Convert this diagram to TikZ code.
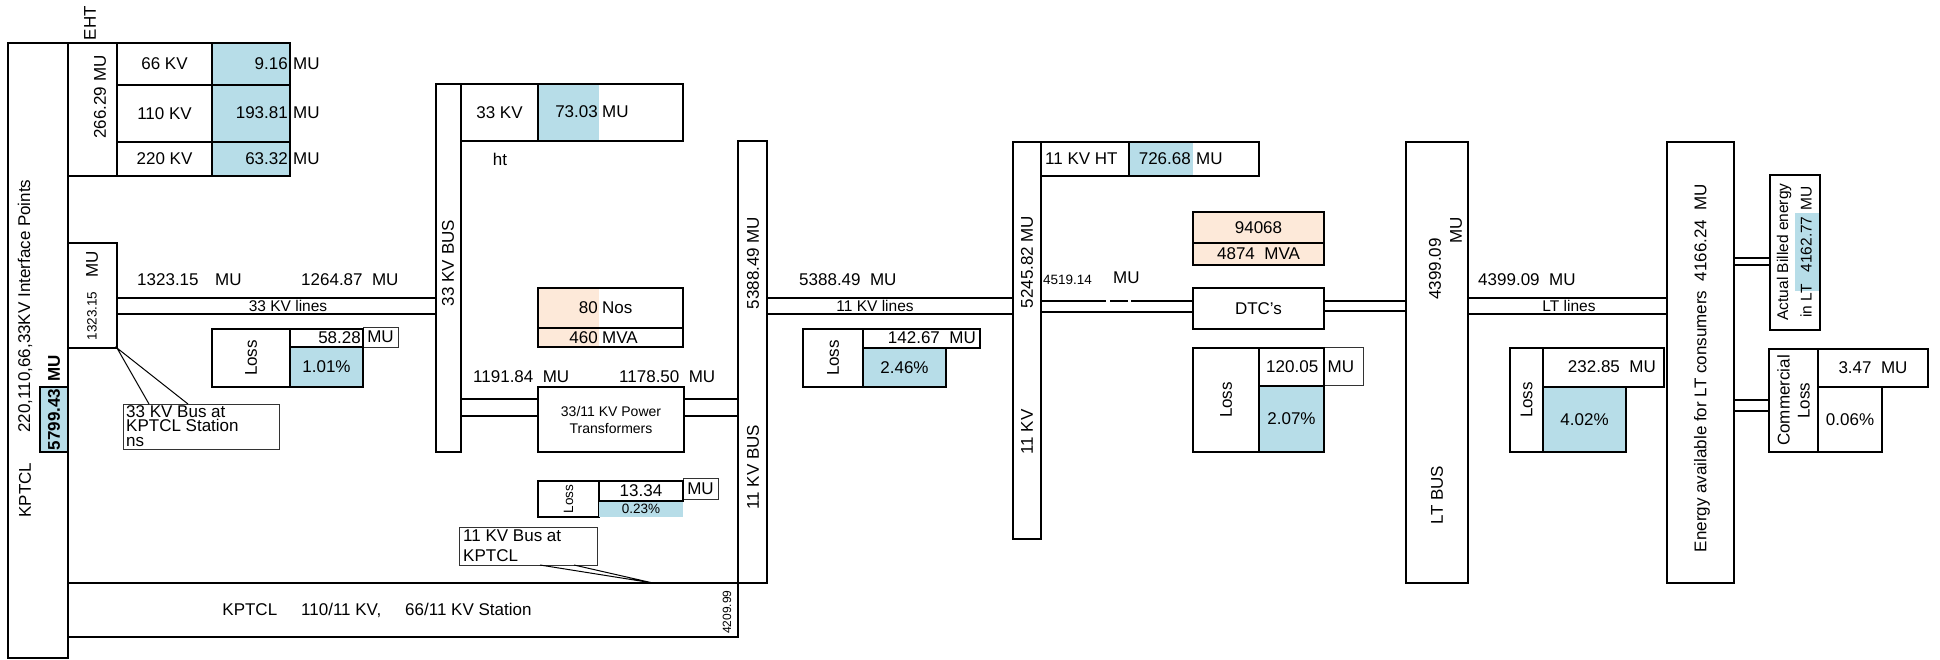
\documentclass[tikz,border=0pt]{standalone}
\usepackage{fontspec}
\setmainfont{Liberation Sans}
\usetikzlibrary{calc}
\definecolor{cblue}{RGB}{183,221,232}
\definecolor{cpeach}{RGB}{253,233,217}
\newcommand\fA{\fontsize{17}{19}\selectfont}
\newcommand\fB{\fontsize{15.5}{17}\selectfont}
\newcommand\fP{\fontsize{14}{17}\selectfont}
\newcommand\fC{\fontsize{13.5}{15}\selectfont}
\newcommand\fD{\fontsize{12}{14}\selectfont}
\newcommand\rbox[7][]{\pgfmathsetmacro\rbw{#5-#3}\pgfmathsetmacro\rbh{#6-#4}%
  \node[box,minimum width=\rbw pt,minimum height=\rbh pt,#1] (#2) at (#3,#4) {#7};}
\begin{document}
\begin{tikzpicture}[x=1pt,y=-1pt,
  box/.style={draw,line width=2pt,inner sep=0pt,outer sep=0pt,anchor=north west,font=\fA,align=center},
  thinbox/.style={line width=1pt,draw=black!80},
  lbl/.style={inner sep=0pt,font=\fA},
  rot/.style={rotate=90},
  wire/.style={line width=1.1pt},
  lead/.style={line width=1pt}]
\useasboundingbox (0,0) rectangle (1940,659);
% ---------- left KPTCL column
\rbox{kp}{8}{43}{68}{658}{}
\node[lbl,rot] (kpt1) at (25,490) {KPTCL};
\node[lbl,rot] (kpt2) at (25,306) {220,110,66,33KV Interface Points};
\rbox[fill=cblue]{b5799}{40}{387}{68}{452}{}
\node[lbl,rot,font=\fA\bfseries] (t5799) at (b5799.center) {5799.43};
\node[lbl,rot,font=\fA\bfseries] (mu5799) at (54,368) {MU};
% EHT
\rbox{eht}{68}{43}{117}{176}{}
\node[lbl,rot] (teht) at (100,97) {266.29 MU};
\node[lbl,rot] (lbleht) at (90,23) {EHT};
\rbox{kv66}{117}{43}{212}{85}{66 KV}
\rbox[fill=cblue]{v66}{212}{43}{290}{85}{}
\rbox{kv110}{117}{85}{212}{142}{110 KV}
\rbox[fill=cblue]{v110}{212}{85}{290}{142}{}
\rbox{kv220}{117}{142}{212}{176}{220 KV}
\rbox[fill=cblue]{v220}{212}{142}{290}{176}{}
\node[lbl,anchor=east] (n66) at (288,64) {9.16};
\node[lbl,anchor=west] (m66) at (293,64) {MU};
\node[lbl,anchor=east] (n110) at (288,113) {193.81};
\node[lbl,anchor=west] (m110) at (293,113) {MU};
\node[lbl,anchor=east] (n220) at (288,159) {63.32};
\node[lbl,anchor=west] (m220) at (293,159) {MU};
% 1323.15 box
\rbox{b1323}{68}{243}{117}{348}{}
\node[lbl,rot,font=\fC] (t1323) at (92,316) {1323.15};
\node[lbl,rot] (m1323) at (92,264) {MU};
\node[lbl,anchor=west] (a1323) at (137,280) {1323.15};
\node[lbl,anchor=west] (a1323m) at (215,280) {MU};
\node[lbl,anchor=west] (a1264) at (301,280) {1264.87\ \ MU};
% loss 1
\rbox{loss1}{212}{329}{290}{387}{}
\node[lbl,rot] (tl1) at (loss1.center) {Loss};
\rbox[thinbox]{l1mu}{363}{327}{398}{347}{MU}
\rbox{l1v}{290}{329}{363}{347}{}
\node[lbl,anchor=east] (tl1v) at (361,338) {58.28};
\rbox[fill=cblue]{l1p}{290}{347}{363}{387}{1.01\%}
% callout 1
\rbox[thinbox]{call1}{123}{404}{279}{449}{}
\node[lbl,anchor=north west,align=left,font=\fontsize{17}{14.5}\selectfont] (tc1) at (126,405) {33 KV Bus at\\KPTCL Station\\ns};
% ---------- 33 KV bus
\rbox{bus33}{436}{84}{461}{452}{}
\node[lbl,rot] (tbus33) at (448,263) {33 KV BUS};
\rbox{kv33}{461}{84}{538}{141}{33 KV}
\fill[cblue] (538,84) rectangle (599,141);
\rbox{v33}{538}{84}{683}{141}{}
\node[lbl,anchor=east] (n33) at (598,112) {73.03};
\node[lbl,anchor=west] (m33) at (602,112) {MU};
\node[lbl] (tht) at (500,159) {ht};
\fill[cpeach] (538,288) rectangle (599,347);
\rbox{nos}{538}{288}{683}{328}{}
\rbox{mva}{538}{328}{683}{347}{}
\node[lbl,anchor=east] (n80) at (598,308) {80};
\node[lbl,anchor=west] (m80) at (602,308) {Nos};
\node[lbl,anchor=east] (n460) at (598,338) {460};
\node[lbl,anchor=west] (m460) at (602,338) {MVA};
\node[lbl,anchor=west] (a1191) at (473,377) {1191.84\ \ MU};
\node[lbl,anchor=west] (a1178) at (619,377) {1178.50\ \ MU};
\rbox[font=\fP]{pt}{538}{387}{684}{452}{33/11 KV Power\\Transformers}
% loss 2
\rbox{loss2}{538}{481}{599}{517}{}
\node[lbl,rot,font=\fC] (tl2) at (loss2.center) {Loss};
\fill[cblue] (599,501) rectangle (683,517);
\rbox[thinbox]{l2mu}{683}{478}{718}{499}{MU}
\rbox{l2v}{599}{481}{683}{501}{13.34}
\node[lbl,font=\fC] (tl2p) at (641,509) {0.23\%};
% callout 2
\rbox[thinbox]{call2}{459}{527}{597}{565}{}
\node[lbl,anchor=north west,align=left,font=\fontsize{17}{20}\selectfont] (tc2) at (463,530) {11 KV Bus at\\KPTCL};
% bottom KPTCL box
\rbox{kb}{68}{583}{738}{637}{}
\node[lbl] (tkb) at (377,610) {KPTCL\hspace{24pt}110/11 KV,\hspace{24pt}66/11 KV Station};
\node[lbl,rot,font=\fD] (t4209) at (727,612) {4209.99};
% ---------- 11 KV BUS (5388.49)
\rbox{bus11}{738}{141}{767}{583}{}
\node[lbl,rot] (tb11a) at (753,263) {5388.49 MU};
\node[lbl,rot] (tb11b) at (753,467) {11 KV BUS};
\node[lbl,anchor=west] (a5388) at (799,280) {5388.49\ \ MU};
\rbox{loss3}{803}{329}{863}{387}{}
\node[lbl,rot] (tl3) at (loss3.center) {Loss};
\rbox{l3v}{863}{329}{980}{348}{}
\node[lbl,anchor=east] (tl3v) at (976,338) {142.67\ \ MU};
\rbox[fill=cblue]{l3p}{863}{348}{946}{387}{2.46\%}
% ---------- 11 KV bar (5245.82)
\rbox{bus11b}{1013}{142}{1041}{539}{}
\node[lbl,rot] (tb11c) at (1027,262) {5245.82 MU};
\node[lbl,rot] (tb11d) at (1027,432) {11 KV};
\rbox{ht11}{1041}{142}{1129}{176}{}
\node[lbl,anchor=west] (tht11) at (1045,159) {11 KV HT};
\fill[cblue] (1129,142) rectangle (1193,176);
\rbox{htv}{1129}{142}{1259}{176}{}
\node[lbl,anchor=east] (nht) at (1191,159) {726.68};
\node[lbl,anchor=west] (mht) at (1196,159) {MU};
\node[lbl,anchor=west,font=\fC] (a4519) at (1043,280) {4519.14};
\node[lbl,anchor=west] (a4519m) at (1113,278) {MU};
\rbox[fill=cpeach]{cnt}{1193}{212}{1324}{243}{94068}
\rbox[fill=cpeach]{mva2}{1193}{243}{1324}{265}{4874\ \ MVA}
\rbox{dtc}{1193}{288}{1324}{329}{DTC's}
\rbox{loss4}{1193}{348}{1259}{452}{}
\node[lbl,rot] (tl4) at (loss4.center) {Loss};
\rbox[thinbox]{l4mu}{1324}{347}{1363}{385}{}
\rbox{l4v}{1259}{348}{1324}{386}{}
\node[lbl,anchor=west] (tl4v) at (1266,367) {120.05\ \ MU};
\rbox[fill=cblue]{l4p}{1259}{386}{1324}{452}{2.07\%}
% ---------- LT BUS
\rbox{ltbus}{1406}{142}{1468}{583}{}
\node[lbl,rot] (tlt) at (1437,495) {LT BUS};
\node[lbl,rot] (tlt1) at (1435,269) {4399.09};
\node[lbl,rot] (tlt2) at (1456,230) {MU};
\node[lbl,anchor=west] (a4399) at (1478,280) {4399.09\ \ MU};
\rbox{loss5}{1510}{348}{1543}{452}{}
\node[lbl,rot] (tl5) at (loss5.center) {Loss};
\rbox{l5v}{1543}{348}{1664}{387}{}
\node[lbl,anchor=east] (tl5v) at (1656,367) {232.85\ \ MU};
\rbox[fill=cblue]{l5p}{1543}{387}{1626}{452}{4.02\%}
% ---------- Energy available
\rbox{en}{1667}{142}{1734}{583}{}
\node[lbl,rot] (ten) at (1702,368) {Energy available for LT consumers\ \ 4166.24\ \ MU};
\fill[cblue] (1795,213) rectangle (1819,291);
\rbox{billed}{1770}{175}{1820}{330}{}
\node[lbl,rot,font=\fB] (tbil1) at (1784,252) {Actual Billed energy};
\node[lbl,rot,font=\fB] (tbil2) at (1806,252) {in LT\hspace{12pt}4162.77\hspace{6pt}MU};
\rbox{comm}{1769}{349}{1818}{452}{}
\node[lbl,rot,align=center,font=\fontsize{17}{20}\selectfont] (tcomm) at (comm.center) {Commercial\\Loss};
\rbox{cv}{1818}{349}{1928}{387}{3.47\ \ MU}
\rbox{cp}{1818}{387}{1882}{452}{0.06\%}
% ---------- connectors
\coordinate (ya) at (0,298);
\coordinate (yb) at (0,314);
\coordinate (yc) at (0,399);
\coordinate (yd) at (0,416);
\coordinate (ye) at (0,301);
\coordinate (yf) at (0,312);
\coordinate (yg) at (0,311);
\coordinate (yh) at (0,258);
\coordinate (yi) at (0,265);
\coordinate (yj) at (0,400);
\coordinate (yk) at (0,411);
\draw[wire] (b1323.east |- ya) -- (bus33.west |- ya);
\draw[wire] (b1323.east |- yb) -- (bus33.west |- yb);
\node[lbl,font=\fB] (t33l) at (288,306) {33 KV lines};
\draw[wire] (bus33.east |- yc) -- (pt.west |- yc);
\draw[wire] (bus33.east |- yd) -- (pt.west |- yd);
\draw[wire] (pt.east |- yc) -- (bus11.west |- yc);
\draw[wire] (pt.east |- yd) -- (bus11.west |- yd);
\draw[wire] (bus11.east |- ya) -- (bus11b.west |- ya);
\draw[wire] (bus11.east |- yb) -- (bus11b.west |- yb);
\node[lbl,font=\fB] (t11l) at (875,306) {11 KV lines};
\draw[wire,dash pattern=on 65pt off 4pt on 18pt off 3pt on 80pt] (bus11b.east |- ye) -- (dtc.west |- ye);
\draw[wire] (bus11b.east |- yf) -- (dtc.west |- yf);
\draw[line width=1.8pt] (dtc.east |- ye) -- (ltbus.west |- ye);
\draw[wire] (dtc.east |- yg) -- (ltbus.west |- yg);
\draw[wire] (ltbus.east |- ya) -- (en.west |- ya);
\draw[wire] (ltbus.east |- yb) -- (en.west |- yb);
\node[lbl,font=\fB] (tltl) at (1569,306) {LT lines};
\draw[wire] (en.east |- yh) -- (billed.west |- yh);
\draw[wire] (en.east |- yi) -- (billed.west |- yi);
\draw[wire] (en.east |- yj) -- (comm.west |- yj);
\draw[wire] (en.east |- yk) -- (comm.west |- yk);
% callout leaders
\draw[lead] ($(call1.north west)+(26,0)$) -- (b1323.south east) -- ($(call1.north west)+(65,0)$);
\coordinate (tip2) at ($(kb.north west)+(585,0)$);
\draw[lead] ($(call2.south west)+(81,0)$) -- (tip2) -- ($(call2.south west)+(115,0)$);
\end{tikzpicture}
\end{document}
